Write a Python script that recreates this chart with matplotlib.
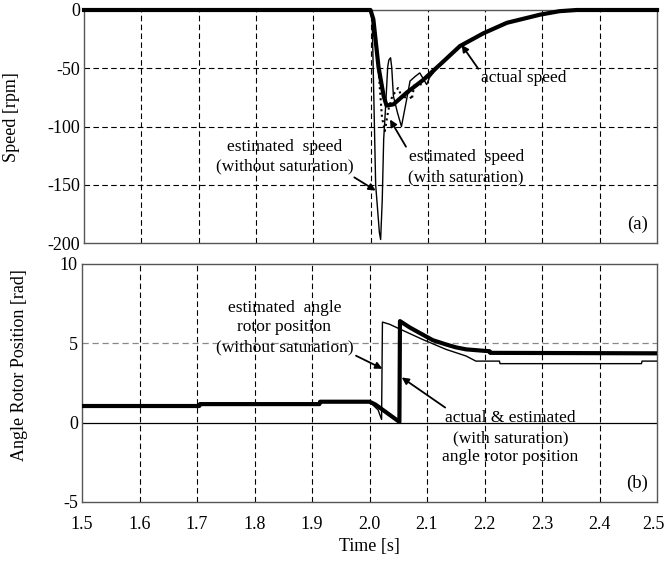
import matplotlib
matplotlib.use('Agg')
import matplotlib.pyplot as plt
from matplotlib.transforms import ScaledTranslation

plt.rcParams['font.family'] = ['Liberation Serif', 'DejaVu Serif']
plt.rcParams['font.size'] = 12.5
plt.rcParams['axes.unicode_minus'] = False

# --- (a) speed [rpm] ---
t_act = [1.5, 2.0, 2.005, 2.014, 2.023, 2.028, 2.04, 2.063, 2.092, 2.121,
         2.156, 2.197, 2.238, 2.296, 2.33, 2.36, 2.5]
v_act = [0, 0, -8, -49, -74, -82, -81, -71, -60, -47,
         -31, -20, -11, -4, -1, 0, 0]

t_sat = [1.5, 2.0, 2.006, 2.013, 2.02, 2.025, 2.031, 2.038, 2.048, 2.057,
         2.066, 2.072, 2.077, 2.085, 2.092, 2.1, 2.121]
v_sat = [0, 0, -12, -45, -92, -104, -86, -74, -67, -77,
         -71, -77, -63, -66, -60, -58, -47]

t_wo = [1.5, 2.0, 2.003, 2.009, 2.0155, 2.0177, 2.0205, 2.023, 2.026, 2.03,
        2.032, 2.035, 2.037, 2.04, 2.047, 2.054, 2.063, 2.069, 2.078, 2.086,
        2.098, 2.103, 2.121]
v_wo = [0, 0, -10, -150, -191, -197, -163, -111, -86, -49,
        -43, -41, -49, -74, -88, -100, -77, -61, -57, -54,
        -64, -58, -47]

# --- (b) angle rotor position [rad] ---
t_pos = [1.5, 1.704, 1.705, 1.913, 1.914, 2.0, 2.01, 2.052, 2.053, 2.07,
         2.092, 2.11, 2.133, 2.15, 2.168, 2.209, 2.21, 2.5]
p_pos = [1.05, 1.05, 1.17, 1.17, 1.32, 1.32, 1.15, 0.05, 6.4, 6.0,
         5.56, 5.2, 4.93, 4.75, 4.62, 4.5, 4.4, 4.37]

t_pos_wo = [1.5, 1.704, 1.705, 1.913, 1.914, 2.0, 2.015, 2.021, 2.0225, 2.035,
            2.054, 2.092, 2.133, 2.168, 2.185, 2.226, 2.227, 2.473, 2.474, 2.5]
p_pos_wo = [1.05, 1.05, 1.17, 1.17, 1.32, 1.32, 0.8, 0.2, 6.34, 6.2,
            5.88, 5.25, 4.62, 4.2, 3.88, 3.88, 3.72, 3.72, 3.88, 3.88]

W, H = 664, 561
fig = plt.figure(figsize=(W / 100, H / 100), dpi=100)
ax1 = fig.add_axes([84 / W, 1 - 243 / H, (657 - 84) / W, (243 - 10) / H])
ax2 = fig.add_axes([82 / W, 1 - 502 / H, (657 - 82) / W, (502 - 264) / H])

xt = [1.5 + 0.1 * i for i in range(11)]
dash = (0, (5, 3))

for ax in (ax1, ax2):
    ax.set_xlim(1.5, 2.5)
    ax.set_xticks(xt)
    ax.tick_params(length=0, labelsize=13)
    ax.tick_params(axis='y', pad=3)
    ax.tick_params(axis='x', pad=10)
    for s in ax.spines.values():
        s.set_color('#555555')
        s.set_linewidth(1.0)
    for x in xt[1:-1]:
        ax.axvline(x, color='black', lw=0.8, ls=dash, zorder=1)

# top panel
ax1.set_ylim(-200, 0)
ax1.set_yticks([0, -50, -100, -150, -200])
ax1.set_xticklabels([])
for y in (-50, -100, -150):
    ax1.axhline(y, color='black', lw=0.8, ls=dash, zorder=1)
ax1.plot(t_wo, v_wo, color='black', lw=1.0, zorder=3, clip_on=False)
ax1.plot(t_sat, v_sat, color='black', lw=1.5, ls=':', zorder=3)
ax1.plot(t_act, v_act, color='black', lw=3.0, zorder=4, clip_on=False)
ax1.set_ylabel('Speed [rpm]', fontsize=13)
ax1.yaxis.set_label_coords(-0.112, 0.54)

arw = dict(arrowstyle='-|>', color='black', lw=1.3, mutation_scale=10,
           shrinkA=0, shrinkB=0)
ax1.annotate('actual speed', xy=(2.159, -30), xytext=(2.193, -58),
             ha='left', va='center', arrowprops=dict(arw, relpos=(0.0, 0.8)))
ax1.annotate('estimated  speed\n(without saturation)', xy=(2.009, -155),
             xytext=(1.851, -126), ha='center', va='center', linespacing=1.3,
             arrowprops=dict(arw, relpos=(0.97, 0.0)))
ax1.annotate('estimated  speed\n(with saturation)', xy=(2.034, -94),
             xytext=(2.167, -135), ha='center', va='center', linespacing=1.3,
             arrowprops=dict(arw, relpos=(0.02, 0.85)))
ax1.text(0.985, 0.08, '(a)', transform=ax1.transAxes, ha='right',
         va='center', fontsize=13.5)

# bottom panel
ax2.set_ylim(-5, 10)
ax2.set_yticks([10, 5, 0, -5])
ax2.set_xticklabels(['%.1f' % x for x in xt])
# nudge the last tick label so it stays inside the figure
last = ax2.get_xticklabels()[-1]
last.set_transform(last.get_transform()
                   + ScaledTranslation(-4 / 100, 0, fig.dpi_scale_trans))
ax2.axhline(5, color='#888888', lw=0.9, ls=dash, zorder=1)
ax2.axhline(0, color='black', lw=0.9, zorder=1)
ax2.plot(t_pos_wo, p_pos_wo, color='black', lw=1.0, zorder=3)
ax2.plot(t_pos, p_pos, color='black', lw=3.0, zorder=4)
ax2.set_ylabel('Angle Rotor Position [rad]', fontsize=13)
ax2.yaxis.set_label_coords(-0.094, 0.575)
ax2.set_xlabel('Time [s]', fontsize=13, labelpad=4)

ax2.annotate('estimated  angle\nrotor position\n(without saturation)',
             xy=(2.0225, 3.4), xytext=(1.852, 6.0), ha='center', va='center',
             linespacing=1.3, arrowprops=dict(arw, relpos=(0.97, 0.05)))
ax2.annotate('actual & estimated\n(with saturation)\nangle rotor position',
             xy=(2.056, 2.85), xytext=(2.245, -0.96), ha='center', va='center',
             linespacing=1.3, arrowprops=dict(arw, relpos=(0.08, 0.95)))
ax2.text(0.985, 0.08, '(b)', transform=ax2.transAxes, ha='right',
         va='center', fontsize=13.5)

fig.savefig('out.png', dpi=100)
